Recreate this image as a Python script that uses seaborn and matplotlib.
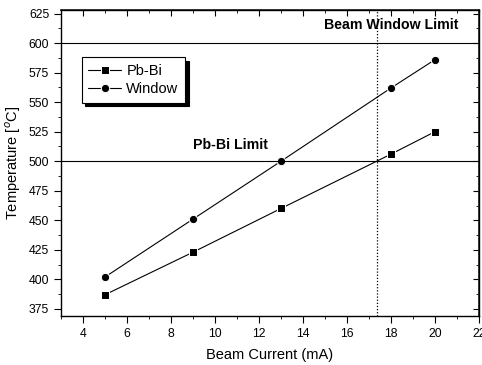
import matplotlib
matplotlib.use("Agg")
import matplotlib.pyplot as plt
import seaborn as sns
import pandas as pd
from matplotlib.ticker import MultipleLocator

sns.set_theme(style="white")
plt.rcParams['font.family'] = ['Liberation Sans', 'DejaVu Sans']
plt.rcParams['text.color'] = 'black'
plt.rcParams['axes.labelcolor'] = 'black'
plt.rcParams['xtick.color'] = 'black'
plt.rcParams['ytick.color'] = 'black'

current = [5, 9, 13, 18, 20]
pbbi_temp = [387, 423, 460, 506, 525]
window_temp = [402, 451, 500, 562, 586]
series_names = ["Pb-Bi", "Window"]
limit_pbbi = 500
limit_window = 600
crossing_current = 17.35

df = pd.DataFrame({
    "current": current * 2,
    "temp": pbbi_temp + window_temp,
    "series": [series_names[0]] * len(current) + [series_names[1]] * len(current),
})

fig = plt.figure(figsize=(4.82, 3.65), dpi=100)
ax = fig.add_axes([61/482, 1 - 316/365, (479-61)/482, (316-10)/365])

sns.lineplot(data=df, x="current", y="temp", hue="series", style="series",
             markers={"Pb-Bi": "s", "Window": "o"}, dashes=False,
             palette={"Pb-Bi": "black", "Window": "black"},
             markersize=6, linewidth=0.8, ax=ax, legend=True)

ax.axhline(limit_window, color="black", lw=0.8)
ax.axhline(limit_pbbi, color="black", lw=0.8)
ax.axvline(crossing_current, color="black", lw=0.9, ls=(0, (1, 1.5)))

ax.text(21.05, 615, "Beam Window Limit", ha="right", va="center", fontsize=10.2, fontweight="bold")
ax.text(10.7, 514, "Pb-Bi Limit", ha="center", va="center", fontsize=10.2, fontweight="bold")

ax.set_xlim(3, 22)
ax.set_ylim(369, 628)
ax.set_xticks([4, 6, 8, 10, 12, 14, 16, 18, 20, 22])
ax.set_xticklabels(["4", "6", "8", "10", "12", "14", "16", "18", "20", "22"])
ax.xaxis.set_minor_locator(MultipleLocator(1))
ax.yaxis.set_major_locator(MultipleLocator(25))
ax.yaxis.set_minor_locator(MultipleLocator(12.5))

ax.set_xlabel("Beam Current (mA)", fontsize=10.5, labelpad=6)
ax.set_ylabel("Temperature [$^o$C]", fontsize=10.5)

for s in ax.spines.values():
    s.set_color("black")
    s.set_linewidth(1.0)

ax.tick_params(which="both", direction="out", bottom=True, left=True, labelsize=8.8)
ax.tick_params(which="major", length=5, width=0.8)
ax.tick_params(which="minor", length=2.5, width=0.6)

axt = ax.secondary_xaxis("top")
axt.xaxis.set_major_locator(MultipleLocator(2))
axt.xaxis.set_minor_locator(MultipleLocator(1))
axt.tick_params(which="both", direction="in", labeltop=False)
axt.tick_params(which="major", length=4, width=0.8)
axt.tick_params(which="minor", length=2, width=0.6)
axr = ax.secondary_yaxis("right")
axr.yaxis.set_major_locator(MultipleLocator(25))
axr.yaxis.set_minor_locator(MultipleLocator(12.5))
axr.tick_params(which="both", direction="in", labelright=False)
axr.tick_params(which="major", length=4, width=0.8)
axr.tick_params(which="minor", length=2, width=0.6)

leg = ax.legend(loc="upper left", bbox_to_anchor=(0.05, 0.846), borderaxespad=0, fontsize=10.5,
                frameon=True, fancybox=False, shadow={"color": "black", "alpha": 1, "ox": 2.5, "oy": -2.5},
                borderpad=0.45, handlelength=2.2, handletextpad=0.4, labelspacing=0.3)
leg.get_frame().set_edgecolor("black")
leg.get_frame().set_linewidth(0.8)
for t in leg.get_texts():
    t.set_color("black")

fig.savefig("out.png", dpi=100)
